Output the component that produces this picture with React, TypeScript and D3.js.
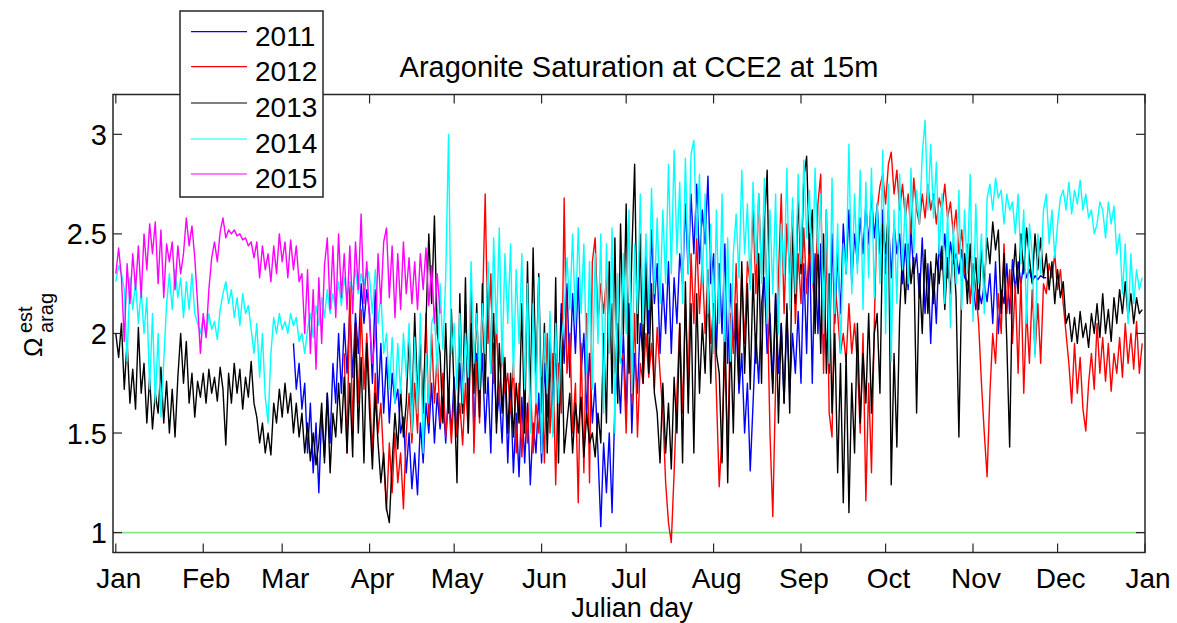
import React from "react";
import * as d3 from "d3";

// ---------- data (values x100, one per day of year, day 0 = Jan 1) ----------
const seriesYears = ["2011", "2012", "2013", "2014", "2015"];
const seriesColors = ["#0000ff", "#ff0000", "#000000", "#00ffff", "#ff00ff"];

const start2011 = 63;
const v2011 = [
  195,172,185,162,175,140,165,
  130,155,120,160,138,170,145,185,165,200,
  170,205,180,212,178,210,190,225,205,222,
  210,175,222,165,195,160,188,155,180,165,
  172,150,158,130,150,122,140,119,155,135,
  165,150,175,145,170,152,168,145,172,150,
  178,148,185,160,215,165,205,150,190,165,
  190,150,178,140,195,155,170,145,185,135,
  172,130,160,128,168,135,165,124,155,140,
  170,135,185,158,200,162,190,170,215,185,
  225,178,220,190,228,180,200,160,190,155,
  175,140,103,145,120,150,110,165,185,160,
  200,160,215,150,190,170,205,188,240,200,
  252,215,235,190,225,200,236,190,228,205,
  240,225,265,230,270,240,275,235,262,245,
  279,225,240,190,235,200,245,185,225,195,
  205,170,190,150,175,131,165,200,175,215,
  228,190,210,175,220,180,205,165,210,170,
  200,180,211,175,235,190,250,175,240,200,
  245,190,262,180,250,205,240,210,255,230,
  262,225,250,235,258,240,265,245,270,248,
  265,240,262,230,258,228,255,240,250,225,
  245,222,252,230,240,218,248,210,235,195,
  230,205,245,232,250,228,246,235,240,230,
  242,228,226,218,225,212,222,215,225,216,
  230,205,236,200,222,215,235,210,237,222,
  236,225,235,228,232,226,229,227,229,228,
  228,
];

const start2012 = 81;
const v2012 = [
  190,140,225,150,205,165,212,172,200,
  170,140,180,150,165,136,111,145,120,150,
  125,140,112,150,170,145,175,150,195,160,
  210,155,200,165,190,155,180,148,168,145,
  170,148,165,144,175,150,228,140,186,155,
  210,270,195,230,175,205,165,195,170,180,
  160,185,140,175,138,170,145,178,140,165,
  150,178,135,200,150,190,124,185,160,268,
  180,200,150,175,115,195,130,210,125,236,
  248,205,225,210,228,190,215,180,205,185,
  190,150,205,165,210,148,185,175,200,178,
  195,172,203,180,160,125,105,95,130,170,
  205,160,215,175,240,205,248,210,236,200,
  232,195,215,170,123,150,190,140,210,190,
  235,188,230,195,236,225,262,220,270,230,
  258,220,150,108,175,228,270,210,255,230,
  262,205,240,215,253,220,245,230,210,265,
  280,180,250,160,148,225,210,190,200,186,
  215,190,205,185,150,200,116,175,130,205,
  262,274,280,265,285,291,270,282,262,275,
  258,270,250,278,262,255,270,258,275,262,
  270,255,268,262,275,258,266,250,262,240,
  252,230,245,215,235,222,205,175,150,128,
  170,200,185,220,200,245,210,232,195,225,
  180,228,170,212,185,222,190,215,185,225,
  220,235,228,240,222,232,215,200,185,165,
  195,170,188,162,151,175,190,172,205,180,
  198,176,195,171,190,180,198,178,205,185,
  200,182,206,180,195,
];

const start2013 = 0;
const v2013 = [
  200,188,205,172,196,165,182,162,203,170,
  185,155,178,152,170,160,183,155,176,150,
  172,148,178,200,175,196,165,180,158,176,
  168,180,165,182,170,178,166,183,172,144,
  180,165,185,170,182,162,178,168,186,165,
  158,145,155,140,150,139,165,155,172,158,
  175,160,170,150,165,148,160,140,155,136,
  150,134,145,165,135,170,130,160,148,175,
  150,178,140,175,138,205,150,188,135,195,
  160,132,170,145,125,140,112,105,135,160,
  142,172,148,165,200,158,210,170,195,160,
  205,250,215,259,200,190,155,205,160,212,
  170,125,220,160,228,150,205,170,215,158,
  225,170,232,180,210,150,195,160,188,150,
  180,148,175,155,215,150,236,165,243,175,
  230,160,205,140,190,150,228,135,210,140,
  155,170,140,165,150,168,138,160,145,150,
  138,160,145,200,155,236,170,248,165,255,
  200,265,180,240,285,195,250,175,235,180,
  225,170,160,135,175,140,165,132,178,150,
  205,135,226,160,215,140,220,170,205,180,
  228,175,215,190,180,135,210,125,200,150,
  215,175,236,180,225,172,230,185,240,175,
  253,282,200,170,220,155,205,165,215,160,
  255,215,270,230,278,289,240,262,200,245,
  190,250,180,230,160,200,130,185,115,190,
  110,175,140,205,155,190,165,210,160,200,
  210,170,255,240,262,124,190,143,210,240,
  215,245,225,238,160,230,200,242,210,236,
  215,240,225,244,212,238,220,245,218,148,
  225,240,215,245,220,238,212,242,225,248,
  235,256,242,252,210,240,195,143,225,245,
  220,250,230,253,238,225,250,232,248,228,
  240,222,236,215,232,218,226,205,210,196,
  208,195,211,198,205,193,210,200,215,198,
  220,200,212,196,218,205,222,210,226,208,
  220,205,218,210,212,
];

const start2014 = 0;
const v2014 = [
  226,234,230,222,186,228,212,226,205,222,
  200,218,172,210,165,200,158,186,215,230,
  212,232,218,228,208,226,212,230,210,205,
  200,208,198,210,202,206,197,212,220,226,
  215,222,208,218,204,220,210,214,202,190,
  205,178,200,168,155,190,208,200,210,202,
  206,200,210,204,208,196,200,190,202,210,
  198,214,204,218,208,222,210,220,212,226,
  214,228,218,226,222,232,220,230,224,233,
  228,210,232,205,220,190,200,172,198,165,
  195,170,200,178,205,150,198,160,210,140,
  190,165,205,210,180,225,192,228,300,190,
  205,172,210,165,200,178,236,185,210,172,
  215,190,236,180,248,200,253,185,240,205,
  245,178,232,195,240,172,225,150,215,165,
  228,140,200,170,211,148,205,165,196,210,
  238,212,250,205,253,210,245,180,236,172,
  240,195,250,160,245,190,253,150,230,185,
  240,200,262,170,245,210,270,205,250,212,
  273,220,258,215,262,225,285,230,292,240,
  276,215,288,230,290,297,248,280,225,270,
  210,255,190,262,205,270,196,248,186,240,
  260,228,282,240,265,222,276,235,270,225,
  278,205,262,220,270,200,255,230,283,212,
  268,220,280,235,287,248,272,225,283,240,
  270,200,262,185,278,210,255,190,245,230,
  295,220,270,230,282,212,276,228,283,218,
  265,225,292,200,275,186,262,215,280,232,
  268,225,283,240,272,255,290,307,262,295,
  258,286,240,270,215,262,203,255,225,272,
  212,262,230,280,206,265,225,250,210,268,
  275,262,278,268,272,255,270,262,266,250,
  270,235,262,205,255,240,188,250,230,262,
  270,245,262,238,255,268,272,262,276,260,
  272,265,277,262,270,258,262,250,255,266,
  262,248,266,255,264,240,250,220,245,205,
  240,215,232,222,228,
];

const start2015 = 0;
const v2015 = [
  230,243,228,196,235,215,240,222,244,218,
  250,232,255,240,256,225,252,218,245,236,
  246,222,244,230,240,258,244,254,238,215,
  190,210,198,222,238,246,236,251,258,248,
  252,250,252,249,250,247,248,244,246,238,
  246,228,244,232,240,226,244,230,250,236,
  246,228,247,232,244,226,230,200,232,190,
  222,182,228,195,234,248,212,244,208,250,
  218,240,212,244,210,246,222,260,215,236,
  205,185,198,240,215,246,253,218,244,208,
  240,212,246,220,238,215,236,212,240,222,
  243,214,234,205,230,210,
];

const seriesStarts = [start2011, start2012, start2013, start2014, start2015];
const seriesValues = [v2011, v2012, v2013, v2014, v2015];

const monthTickDays = [0, 31, 59, 90, 120, 151, 181, 212, 243, 273, 304, 334, 365];
const monthLabels = ["Jan", "Feb", "Mar", "Apr", "May", "Jun", "Jul", "Aug", "Sep", "Oct", "Nov", "Dec", "Jan"];
const yTicks = [1, 1.5, 2, 2.5, 3];
const yTickLabels = ["1", "1.5", "2", "2.5", "3"];
const refLevel = 1;

// ---------- layout ----------
const W = 1177;
const H = 623;
const L = 113, R = 1145, T = 94.5, B = 552.5;

export default function App() {
  const x = d3.scaleLinear().domain([-1, 365]).range([L, R]);
  const y = d3.scaleLinear().domain([0.9, 3.2]).range([B, T]);
  const line = d3
    .line<{ d: number; v: number }>()
    .x((p) => x(p.d))
    .y((p) => y(p.v));

  const paths = seriesValues.map((arr, k) =>
    line(arr.map((v, i) => ({ d: seriesStarts[k] + i, v: v / 100 })))
  );

  const font = "Arial, 'Liberation Sans', Helvetica, sans-serif";
  const axisColor = "#262626";
  const tickLen = 9;
  const legendRows = [31.7, 66.7, 103, 139, 174];

  return (
    <svg
      width={W}
      height={H}
      style={{ position: "absolute", left: 0, top: 0, background: "#fff" }}
      fontFamily={font}
    >
      <rect x={0} y={0} width={W} height={H} fill="#fff" />
      <defs>
        <clipPath id="plotClip">
          <rect x={L} y={T} width={R - L} height={B - T} />
        </clipPath>
      </defs>

      {/* reference line */}
      <line
        x1={L}
        x2={R}
        y1={y(refLevel)}
        y2={y(refLevel)}
        stroke="#86e886"
        strokeWidth={1.6}
      />

      {/* series */}
      <g clipPath="url(#plotClip)">
        {paths.map((p, k) => (
          <path
            key={seriesYears[k]}
            d={p || ""}
            fill="none"
            stroke={seriesColors[k]}
            strokeWidth={1.4}
            strokeLinejoin="round"
          />
        ))}
      </g>

      {/* axes box */}
      <rect
        x={L}
        y={T}
        width={R - L}
        height={B - T}
        fill="none"
        stroke={axisColor}
        strokeWidth={1.5}
      />

      {/* x ticks */}
      {monthTickDays.map((d, i) => (
        <g key={"xt" + i}>
          <line x1={x(d)} x2={x(d)} y1={B} y2={B - tickLen} stroke={axisColor} strokeWidth={1.2} />
          <line x1={x(d)} x2={x(d)} y1={T} y2={T + tickLen} stroke={axisColor} strokeWidth={1.2} />
          <text
            x={x(d) + 3}
            y={588}
            fontSize={28}
            textAnchor="middle"
            fill="#000"
          >
            {monthLabels[i]}
          </text>
        </g>
      ))}

      {/* y ticks */}
      {yTicks.map((v, i) => (
        <g key={"yt" + i}>
          <line x1={L} x2={L + tickLen} y1={y(v)} y2={y(v)} stroke={axisColor} strokeWidth={1.2} />
          <line x1={R} x2={R - tickLen} y1={y(v)} y2={y(v)} stroke={axisColor} strokeWidth={1.2} />
          <text
            x={107}
            y={y(v) + 10.5}
            fontSize={29}
            textAnchor="end"
            fill="#000"
          >
            {yTickLabels[i]}
          </text>
        </g>
      ))}

      {/* x label */}
      <text x={632} y={617} fontSize={27} textAnchor="middle" fill="#000">
        Julian day
      </text>

      {/* y label */}
      <g transform="translate(42, 357) rotate(-90)">
        <text x={0} y={0} fontSize={26} fill="#000">
          Ω
        </text>
        <text x={24} y={-10} fontSize={20} fill="#000">
          est
        </text>
        <text x={24} y={11} fontSize={20} fill="#000">
          arag
        </text>
      </g>

      {/* title */}
      <text x={639} y={77} fontSize={29} textAnchor="middle" fill="#000">
        Aragonite Saturation at CCE2 at 15m
      </text>

      {/* legend */}
      <rect x={180} y={11} width={143} height={186} fill="#fff" stroke={axisColor} strokeWidth={1.5} />
      {seriesYears.map((yr, k) => (
        <g key={"lg" + yr}>
          <line
            x1={191}
            x2={247}
            y1={legendRows[k]}
            y2={legendRows[k]}
            stroke={seriesColors[k]}
            strokeWidth={1.2}
          />
          <text x={255} y={legendRows[k] + 14} fontSize={28} fill="#000">
            {yr}
          </text>
        </g>
      ))}
    </svg>
  );
}
